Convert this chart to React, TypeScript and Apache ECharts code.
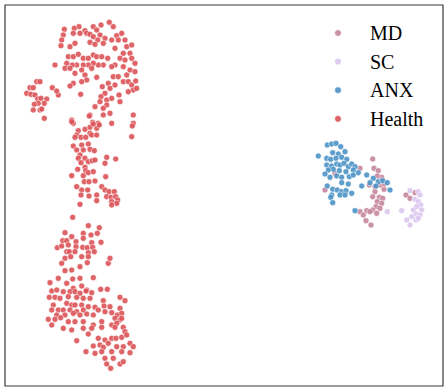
import React, { useEffect, useRef } from "react";
import * as echarts from "echarts";

const seriesNames = ["MD", "SC", "ANX", "Health"];
const seriesColors = ["#c4869a", "#dcc6f0", "#4c93c8", "#dc5358"];

const health: number[][] = [
  [109.3, 22.3], [113.3, 26.7], [101, 25], [93.3, 26.7], [96.7, 30], [79, 26.7], [74.3, 28.3], [64.3, 29.3],
  [85, 30.7], [86.7, 33.3], [80, 33.3], [73.3, 33.3], [63.3, 35], [61.7, 40], [61, 45.7], [70, 46.7],
  [75, 43.3], [90, 34.3], [93.3, 36.7], [100, 35], [105, 38.3], [97.7, 40], [90, 42.3], [95, 44.3],
  [103.3, 43.3], [111.7, 40], [116.7, 35.7], [121.7, 33.3], [125, 40], [118.3, 40], [115, 48.3], [126.7, 46.7],
  [131.7, 45], [130, 53.3], [123.3, 53.3], [120, 58.3], [125, 60], [131.7, 58.3], [135, 63.3], [130, 70],
  [135, 71.7], [126.7, 75], [123.3, 66.7], [115, 65], [113.3, 76.7], [118.3, 76.7], [123.3, 81.7], [128.3, 81.7],
  [131.7, 85], [135.7, 81], [133.3, 90], [128.3, 91.7], [136.7, 88.3], [115, 85], [108.3, 83.3], [110, 88.3],
  [102.3, 86.7], [105, 93.3], [101, 96.7], [100, 101.7], [106.7, 100], [111.7, 98.3], [119, 95], [120, 101.7],
  [106.7, 105], [103.3, 108.3], [110, 113.3], [103.3, 115], [95, 106.7], [90, 115], [92.7, 122.3], [98.3, 123.3],
  [111.7, 123.3], [133.3, 115], [133.3, 123.3],
  [68.3, 56.7], [73.3, 56.7], [78.3, 54.3], [83.3, 58.3], [88.3, 58.3], [93.3, 55], [96.7, 56.7], [101.7, 56.7],
  [107.7, 58.3], [103.3, 65], [111.7, 66.7], [98.3, 65], [93.3, 63.3], [88.3, 65], [83.3, 65], [76.7, 65],
  [72.3, 65], [66.7, 63.3], [65, 68.3], [70, 68.3], [91.7, 68.3], [81.7, 70], [75, 73.3], [85, 75],
  [96.7, 77.3], [86.7, 80], [81.7, 81.7], [73.3, 83.3], [70, 86], [55, 65], [80.7, 94.3], [58.3, 95],
  [36.7, 81.7], [40, 81.7], [30, 87.7], [33.3, 87.7], [26.7, 93.3], [31, 94.3], [35, 95], [37.7, 99],
  [41, 98.3], [46.7, 99], [44.3, 103.3], [38.3, 103.3], [34.3, 104.3], [33.3, 110], [40, 110], [41.7, 109],
  [44.3, 118.3], [52.3, 87.7], [56.7, 91], [71.7, 120], [73.3, 123.3],
  [89.3, 116], [71.7, 121.7], [78.3, 130.7], [85, 129.3], [90, 127.3], [96.7, 128.3], [99.3, 125], [93.3, 124],
  [76.7, 135], [75, 137.3], [81, 137.3], [85.7, 137.3], [90, 133.3], [91.7, 135], [96.7, 135], [73.3, 146],
  [81.7, 145], [88.3, 144], [76.7, 150], [83.3, 150], [90, 149.3], [94.3, 150.7], [80, 155], [78.3, 158.3],
  [85, 158.3], [81, 162.7], [88.3, 161.7], [92.3, 160.7], [95, 160], [106.7, 157.3], [115.7, 159], [105, 163.3],
  [77.7, 169.3], [85, 167.3], [85.7, 170.7], [88.3, 172.7], [93.3, 171.7], [71.7, 175.7], [83.3, 175.7], [105.7, 176.7],
  [84.3, 181.7], [89, 181.7], [95, 181], [101.7, 186.7], [76.7, 186.7], [81.7, 190], [87.7, 190], [105, 190],
  [109, 191.7], [114.3, 191.7], [81, 195], [89, 196], [96.7, 195], [106.7, 196.7], [111, 197.3], [115.7, 196.7],
  [117.7, 200], [111.7, 201.7], [96.7, 200.7], [116.7, 203.3], [80, 204.3], [111.7, 205], [132.3, 126], [131.7, 136.7],
  [72.7, 217.3], [88.3, 225.7], [99.3, 227.7], [83.3, 233.3], [91, 235], [97.3, 233.3], [65, 232.7], [71.7, 236.7],
  [62.7, 240.7], [66.7, 240.7], [76, 241.7], [83.3, 238.3], [91.7, 242.7], [101, 242.3], [57.3, 247.7], [61.7, 246],
  [68.3, 245], [76, 246.7], [82.7, 247.3], [87.3, 247.7], [92.7, 247.3], [66.7, 251.7], [69.3, 251.7], [75, 251.7],
  [88.3, 252.7], [94.3, 251.7], [65, 258.3], [70.7, 256.7], [81.7, 256.7], [88.3, 256.7], [61.7, 263.3], [87.3, 262.7],
  [80, 266.7], [108.3, 263.3], [110, 258.3], [65, 270.7], [71.7, 270], [58.3, 278.3], [72.7, 279], [80, 278.3],
  [93.3, 277.7], [50, 282.7], [66.7, 283.3], [81.7, 286], [73.3, 288.3], [86.7, 290], [100.7, 289.3], [107.3, 289.3],
  [51.7, 291], [56.7, 290], [63.3, 291.7], [70, 291.7], [75, 291.7], [80, 293.3], [86, 291], [91.7, 292.7],
  [49.3, 297.3], [55, 297.3], [60, 298.3], [68.3, 296.7], [76.7, 297.3], [83.3, 298.3], [90, 298.3], [103.3, 300.7],
  [120, 297.3], [125, 300.7], [53.3, 305], [66.7, 303.3], [71.7, 305], [75, 305], [81.7, 305], [88.3, 306.7],
  [95, 307.3], [104, 306], [110, 306.7], [120, 308.3], [51.7, 310], [58.3, 310], [63.3, 310], [70, 310],
  [76.7, 311.7], [83.3, 310], [98.3, 310], [105, 311.7], [111.7, 312.7], [117.3, 315], [121.7, 313.3], [56.7, 315],
  [65, 315], [73.3, 313.3], [80, 315], [86.7, 314], [93.3, 315], [115, 318.3], [120, 320], [48.3, 319.3],
  [55, 319.3], [60.7, 317.7], [68.3, 321.7], [75, 321.7], [83.3, 321.7], [93.3, 325], [101.7, 321.7], [111.7, 325],
  [116.7, 323.3], [121.7, 318.3], [51.7, 325], [63.3, 328.3], [71.7, 330], [83.3, 328.3], [91.7, 328.3], [101.7, 327.3],
  [115, 327.3], [123.3, 327.3], [125, 331.7], [88.3, 334], [76.7, 340.7], [98.3, 338.3], [105, 340], [111.7, 338.3],
  [116, 338.3], [121.7, 337.3], [126.7, 335], [130, 343.3], [133.3, 346.7], [93.3, 346], [100, 345], [103.3, 347.3],
  [108.3, 343.3], [116.7, 346.7], [123.3, 346.7], [86, 351.7], [95, 353.3], [101.7, 351.7], [111.7, 351.7], [121.7, 351.7],
  [130, 352.7], [105, 358.3], [113.3, 358.3], [106.7, 364], [110.7, 368.3], [120, 364], [123.3, 361.7]
];

const anx: number[][] = [
  [327.3, 145], [331.7, 144], [336, 143.3], [340.7, 146.7], [318.3, 156], [332.7, 152.7], [338.3, 154], [345, 151.7],
  [326.7, 158.3], [330.7, 159.3], [336, 158.3], [341.7, 157.3], [346.7, 159.3], [326.7, 165], [331.7, 166], [336.7, 164],
  [340, 165], [344, 163.3], [348.3, 166.7], [351.7, 164], [355, 166.7], [358.3, 172.7], [353.3, 170], [346, 171.7],
  [339.3, 170.7], [333.3, 169.3], [328.3, 170], [325, 174], [330, 177.3], [336.7, 176], [341.7, 177.3], [349.3, 176.7],
  [353.3, 175], [366.7, 175], [373.3, 178.3], [378.3, 181.7], [382.7, 180.7], [387.3, 182.7], [341.7, 182.7], [348.3, 184],
  [327.3, 186], [332.7, 189.3], [337.3, 190], [341.7, 191.7], [346, 190.7], [351.7, 193.3], [361.7, 186], [370, 182.7],
  [376, 186], [390, 190], [331.7, 195], [330.7, 197.3], [340, 195], [345, 195], [332.7, 202.7], [355, 210.7]
];

const md: number[][] = [
  [372.7, 159], [374, 168.3], [378.3, 170.7], [381.7, 177.3], [377.3, 176], [335, 173.3], [325, 190], [360, 168.3],
  [369.3, 185], [375, 186.7], [380, 185], [375, 191.7], [372.7, 196.7], [379.3, 197.3], [382.7, 198.3], [377.3, 201.7],
  [381.7, 203.3], [376, 206.7], [372.7, 210], [380, 208.3], [366.7, 210.7], [370, 211.7], [360, 211.7], [363.3, 215],
  [366, 220.7], [371, 225], [376.7, 213.3], [384, 189.3], [406, 195], [415, 192.7], [410, 198.3], [384.3, 184]
];

const sc: number[][] = [
  [387.3, 211.7], [401.7, 210.7], [410, 190.7], [418.3, 191.7], [420, 195], [415, 199.3], [418.3, 201.7], [420.7, 205],
  [416.7, 206.7], [421.7, 210], [413.3, 210], [416, 214], [420, 215], [411.7, 216.7], [416, 220], [410, 225],
  [406.7, 220], [418.3, 218.3]
];

const seriesData = [md, sc, anx, health];

export default function App() {
  const ref = useRef<HTMLDivElement>(null);
  useEffect(() => {
    document.body.style.margin = "0";
    const chart = echarts.init(ref.current!, null, { renderer: "svg" });
    chart.setOption({
      animation: false,
      backgroundColor: "#ffffff",
      grid: {
        left: 5,
        right: 5,
        top: 5,
        bottom: 6,
        show: true,
        borderColor: "#3a3a3a",
        borderWidth: 1.2,
        backgroundColor: "transparent",
      },
      xAxis: {
        type: "value",
        min: 5,
        max: 443,
        show: false,
        splitLine: { show: false },
      },
      yAxis: {
        type: "value",
        min: 5,
        max: 386,
        inverse: true,
        show: false,
        splitLine: { show: false },
      },
      legend: {
        orient: "vertical",
        left: 333,
        top: 23,
        padding: 0,
        itemWidth: 54,
        itemHeight: 8,
        itemGap: 8.6,
        icon: "circle",
        data: seriesNames,
        textStyle: {
          fontFamily: "Liberation Serif",
          fontSize: 20,
          lineHeight: 20,
          color: "#000",
        },
      },
      series: seriesNames.map((name, i) => ({
        name,
        type: "scatter",
        data: seriesData[i],
        symbol: "circle",
        symbolSize: 6,
        itemStyle: {
          color: seriesColors[i],
          opacity: 0.9,
          borderColor: "#ffffff",
          borderWidth: 0.6,
        },
        emphasis: { disabled: true },
      })),
    });
    return () => chart.dispose();
  }, []);
  return <div ref={ref} style={{ width: 448, height: 392 }} />;
}
